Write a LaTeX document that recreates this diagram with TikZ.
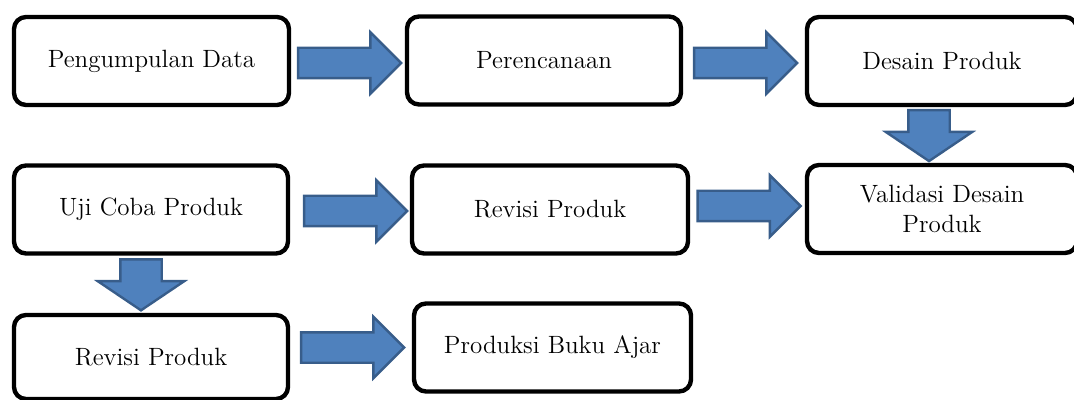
\documentclass[tikz,border=0pt]{standalone}
\usetikzlibrary{shapes.arrows,calc}
\definecolor{arrowfill}{HTML}{4F81BD}
\definecolor{arrowline}{HTML}{385D8A}
\tikzset{
	stage/.style={draw, line width=2.2pt, rounded corners=6pt, align=center, inner sep=0pt,
		font=\fontsize{12.5}{15}\selectfont, minimum height=44pt},
	blockarrow/.style={single arrow, draw=arrowline, fill=arrowfill, line width=1.2pt},
	rightarrow/.style={blockarrow, minimum height=51.5pt, inner xsep=0pt, inner ysep=7pt,
		single arrow head extend=7.75pt, single arrow tip angle=90, xshift=-3pt},
	downarrow/.style={blockarrow, shape border rotate=270, minimum height=25.5pt, inner xsep=9.75pt, inner ysep=0pt,
		single arrow head extend=11.25pt, single arrow tip angle=112, yshift=3.2pt}
}
\begin{document}
\begin{tikzpicture}[x=0.5pt, y=-0.5pt]
	\useasboundingbox (0,0) rectangle (1074,400);
	\node[stage, minimum width=137.5pt] (data) at (151.5,61) {Pengumpulan Data};
	\node[stage, minimum width=137pt] (plan) at (544,60.5) {Perencanaan};
	\node[stage, minimum width=135pt] (design) at (942,61) {Desain Produk};
	\node[stage, minimum width=137pt] (trial) at (151,209.5) {Uji Coba Produk};
	\node[stage, minimum width=138pt] (revise) at (550,209.5) {Revisi Produk};
	\node[stage, minimum width=135pt] (validate) at (942,209) {Validasi Desain\\Produk};
	\node[stage, minimum width=137pt, minimum height=42pt] (reviseb) at (151,357) {Revisi Produk};
	\node[stage, minimum width=138.5pt] (produce) at (552.5,347.5) {Produksi Buku Ajar};
	\node[rightarrow] (a1) at ($(data.east |- 0,63)!0.5!(plan.west |- 0,63)$) {};
	\node[rightarrow] (a2) at ($(plan.east |- 0,63)!0.5!(design.west |- 0,63)$) {};
	\node[downarrow, xshift=-6.5pt] (a3) at ($(design.south)!0.5!(validate.north)$) {};
	\node[rightarrow, xshift=2pt] (a4) at ($(trial.east |- 0,211)!0.5!(revise.west |- 0,211)$) {};
	\node[rightarrow] (a5) at ($(revise.east |- 0,206)!0.5!(validate.west |- 0,206)$) {};
	\node[downarrow, xshift=-5pt] (a6) at ($(trial.south)!0.5!(reviseb.north)$) {};
	\node[rightarrow] (a7) at ($(reviseb.east |- produce)!0.5!(produce.west)$) {};
\end{tikzpicture}
\end{document}
